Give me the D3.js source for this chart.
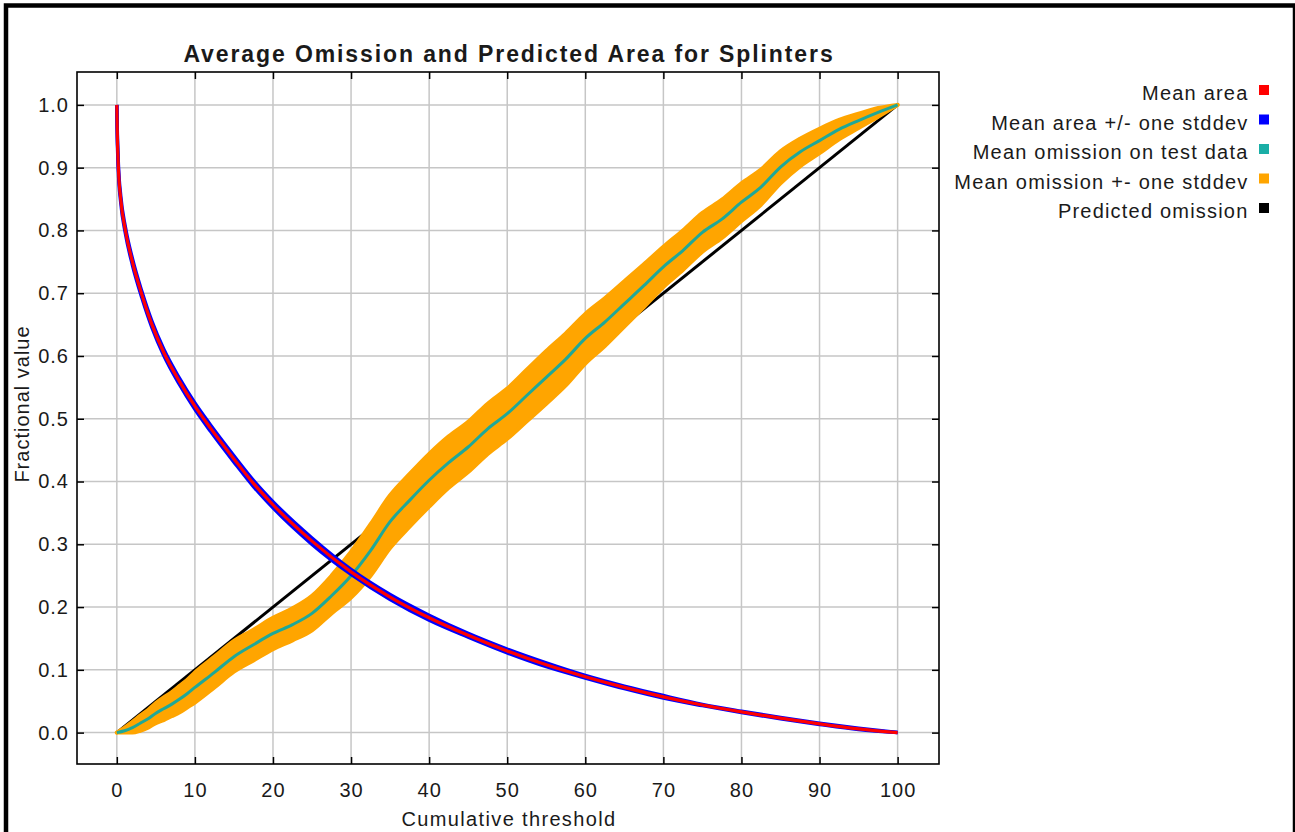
<!DOCTYPE html>
<html><head><meta charset="utf-8">
<script src="https://cdn.jsdelivr.net/npm/d3@7"></script>
<style>
body{margin:0;background:#fff}
svg{display:block}
text{font-family:"Liberation Sans",Arial,sans-serif;fill:#1a1a1a}
</style>
</head><body>
<svg id="c" width="1295" height="832"></svg>
<script>
// ---- data ----
const titleText = "Average Omission and Predicted Area for Splinters";
const xLabel = "Cumulative threshold";
const yLabel = "Fractional value";
const xTicks = [0,10,20,30,40,50,60,70,80,90,100];
const yTicks = [0,0.1,0.2,0.3,0.4,0.5,0.6,0.7,0.8,0.9,1.0];

const areaX     = [0,0.05,0.2,0.5,1.1,2,3.2,4.5,6,8,10,12,15,17.5,20,25,30,35,40,45,50,55,60,65,70,75,80,85,90,95,100];
const areaMean  = [1.0,0.96,0.9,0.85,0.8,0.75,0.698,0.65,0.606,0.56,0.52,0.485,0.436,0.397,0.363,0.305,0.256,0.216,0.183,0.155,0.13,0.108,0.089,0.072,0.057,0.044,0.033,0.023,0.014,0.006,0];
const areaUpper = [1.0,0.963,0.905,0.855,0.805,0.755,0.703,0.655,0.611,0.565,0.525,0.49,0.441,0.402,0.368,0.31,0.26,0.22,0.187,0.158,0.133,0.111,0.091,0.074,0.059,0.045,0.034,0.024,0.015,0.007,0];
const areaLower = [1.0,0.957,0.895,0.845,0.795,0.745,0.693,0.645,0.601,0.555,0.515,0.48,0.431,0.392,0.358,0.3,0.252,0.212,0.179,0.152,0.127,0.105,0.087,0.070,0.055,0.043,0.032,0.022,0.013,0.005,0];

const omX     = [0,1,2,3,4,5,6,7,8,9,10,12.5,15,17.5,20,22.5,25,27.5,30,32.5,35,37.5,40,42.5,45,47.5,50,52.5,55,57.5,60,62.5,65,67.5,70,72.5,75,77.5,80,82.5,85,87.5,90,92.5,95,97.5,100];
const omMean  = [0,0.003,0.008,0.015,0.022,0.031,0.038,0.045,0.053,0.062,0.072,0.096,0.121,0.14,0.158,0.172,0.19,0.218,0.25,0.29,0.336,0.37,0.402,0.43,0.455,0.484,0.508,0.537,0.566,0.595,0.628,0.654,0.683,0.712,0.742,0.768,0.797,0.818,0.845,0.869,0.901,0.925,0.943,0.961,0.975,0.988,1.0];
const omLower = [0,0,0,0.003,0.008,0.015,0.02,0.026,0.032,0.04,0.048,0.072,0.097,0.115,0.133,0.147,0.163,0.19,0.215,0.25,0.294,0.328,0.36,0.39,0.415,0.444,0.468,0.496,0.524,0.553,0.588,0.616,0.647,0.678,0.71,0.737,0.766,0.788,0.815,0.841,0.875,0.902,0.923,0.945,0.963,0.981,1.0];
const omUpper = [0,0.008,0.017,0.027,0.036,0.047,0.056,0.064,0.074,0.084,0.096,0.121,0.146,0.164,0.183,0.198,0.218,0.25,0.288,0.332,0.378,0.412,0.444,0.472,0.495,0.524,0.548,0.578,0.608,0.636,0.667,0.692,0.719,0.746,0.774,0.8,0.828,0.849,0.875,0.897,0.926,0.946,0.962,0.976,0.986,0.995,1.0];

const predX = [0,100];
const predY = [0,1];

const legendLabels = ["Mean area","Mean area +/- one stddev","Mean omission on test data","Mean omission +- one stddev","Predicted omission"];
const legendColors = ["#ff0000","#0000ff","#1aaea6","#ffa500","#000000"];

// ---- chart ----
const svg = d3.select("#c");
const P = {l:77, t:72, r:939, b:764};
const x = d3.scaleLinear().domain([-5.1,105.3]).range([P.l,P.r]);
const y = d3.scaleLinear().domain([-0.05,1.05]).range([P.b,P.t+1.5]);
const FONT = '"Liberation Sans",Arial,sans-serif';

svg.append("rect").attr("width",1295).attr("height",832).attr("fill","#fff");

// grid
const g = svg.append("g");
g.selectAll("line.vx").data(xTicks).join("line")
  .attr("x1",d=>x(d)).attr("x2",d=>x(d)).attr("y1",P.t).attr("y2",P.b)
  .attr("stroke","#c6c6c6").attr("stroke-width",1.5);
g.selectAll("line.hy").data(yTicks).join("line")
  .attr("y1",d=>y(d)).attr("y2",d=>y(d)).attr("x1",P.l).attr("x2",P.r)
  .attr("stroke","#c6c6c6").attr("stroke-width",1.5);

// predicted omission
const lineP = d3.line().x((d,i)=>x(predX[i])).y(d=>y(d));
svg.append("path").attr("d",lineP(predY)).attr("fill","none").attr("stroke","#000").attr("stroke-width",3);

// omission band
const idxOm = omX.map((d,i)=>i);
const cv = d3.curveMonotoneX;
const bandOm = d3.area().curve(cv).x(i=>x(omX[i])).y0(i=>y(omLower[i])).y1(i=>y(omUpper[i]));
svg.append("path").attr("d",bandOm(idxOm)).attr("fill","#ffa500");
[omLower,omUpper].forEach(arr=>{
  svg.append("path").attr("d",d3.line().curve(cv).x(i=>x(omX[i])).y(i=>y(arr[i]))(idxOm))
    .attr("fill","none").attr("stroke","#ffa500").attr("stroke-width",4).attr("stroke-linejoin","round").attr("stroke-linecap","round");
});
svg.append("path").attr("d",d3.line().curve(cv).x(i=>x(omX[i])).y(i=>y(omMean[i]))(idxOm))
  .attr("fill","none").attr("stroke","#1fa898").attr("stroke-width",3);

// mean area band and line
const idxA = areaX.map((d,i)=>i);
[areaUpper,areaLower].forEach(arr=>{
  svg.append("path").attr("d",d3.line().curve(cv).x(i=>x(areaX[i])).y(i=>y(arr[i]))(idxA))
    .attr("fill","none").attr("stroke","#0000ff").attr("stroke-width",3.5);
});
svg.append("path").attr("d",d3.line().curve(cv).x(i=>x(areaX[i])).y(i=>y(areaMean[i]))(idxA))
  .attr("fill","none").attr("stroke","#ff0000").attr("stroke-width",3.2);

// axes
function styleAxis(sel){
  sel.select(".domain").remove();
  sel.selectAll(".tick line").attr("stroke","#000").attr("stroke-width",1.5);
  sel.selectAll(".tick text").attr("fill","#1a1a1a").style("font-family",FONT)
    .style("font-size","20px").style("letter-spacing","1px");
}
svg.append("g").attr("transform",`translate(0,${P.b})`)
  .call(d3.axisBottom(x).tickValues(xTicks).tickSizeInner(-7).tickSizeOuter(0).tickPadding(18.5).tickFormat(d3.format("d")))
  .call(styleAxis);
svg.append("g").attr("transform",`translate(${P.l},0)`)
  .call(d3.axisLeft(y).tickValues(yTicks).tickSizeInner(-7).tickSizeOuter(0).tickPadding(8).tickFormat(d3.format(".1f")))
  .call(styleAxis);
svg.append("g").attr("transform",`translate(0,${P.t})`)
  .call(d3.axisTop(x).tickValues(xTicks).tickSizeInner(-7).tickSizeOuter(0).tickFormat(""))
  .call(styleAxis);
svg.append("g").attr("transform",`translate(${P.r},0)`)
  .call(d3.axisRight(y).tickValues(yTicks).tickSizeInner(-7).tickSizeOuter(0).tickFormat(""))
  .call(styleAxis);

// plot frame
svg.append("rect").attr("x",P.l).attr("y",P.t).attr("width",P.r-P.l).attr("height",P.b-P.t)
  .attr("fill","none").attr("stroke","#000").attr("stroke-width",1.6);

// title & labels
svg.append("text").attr("x",(P.l+P.r)/2+1).attr("y",62).attr("text-anchor","middle")
  .style("font-size","23px").style("font-weight","bold").style("letter-spacing","1.9px").text(titleText);
svg.append("text").attr("x",(P.l+P.r)/2+1).attr("y",826).attr("text-anchor","middle")
  .style("font-size","20px").style("letter-spacing","1.35px").text(xLabel);
svg.append("text").attr("transform","translate(29,404) rotate(-90)").attr("text-anchor","middle")
  .style("font-size","20px").style("letter-spacing","1px").text(yLabel);

// legend
const lg = svg.append("g");
legendLabels.forEach((t,i)=>{
  const cy = 90 + i*29.5;
  lg.append("text").attr("x",1248.5).attr("y",cy+10).attr("text-anchor","end")
    .style("font-size","20px").style("letter-spacing","1.2px").text(t);
  lg.append("rect").attr("x",1259).attr("y",cy-5).attr("width",10).attr("height",10).attr("fill",legendColors[i]);
});

// outer frame
svg.append("rect").attr("x",6).attr("y",5.5).attr("width",1289).attr("height",900)
  .attr("fill","none").attr("stroke","#000").attr("stroke-width",4.5);
</script>
</body></html>
